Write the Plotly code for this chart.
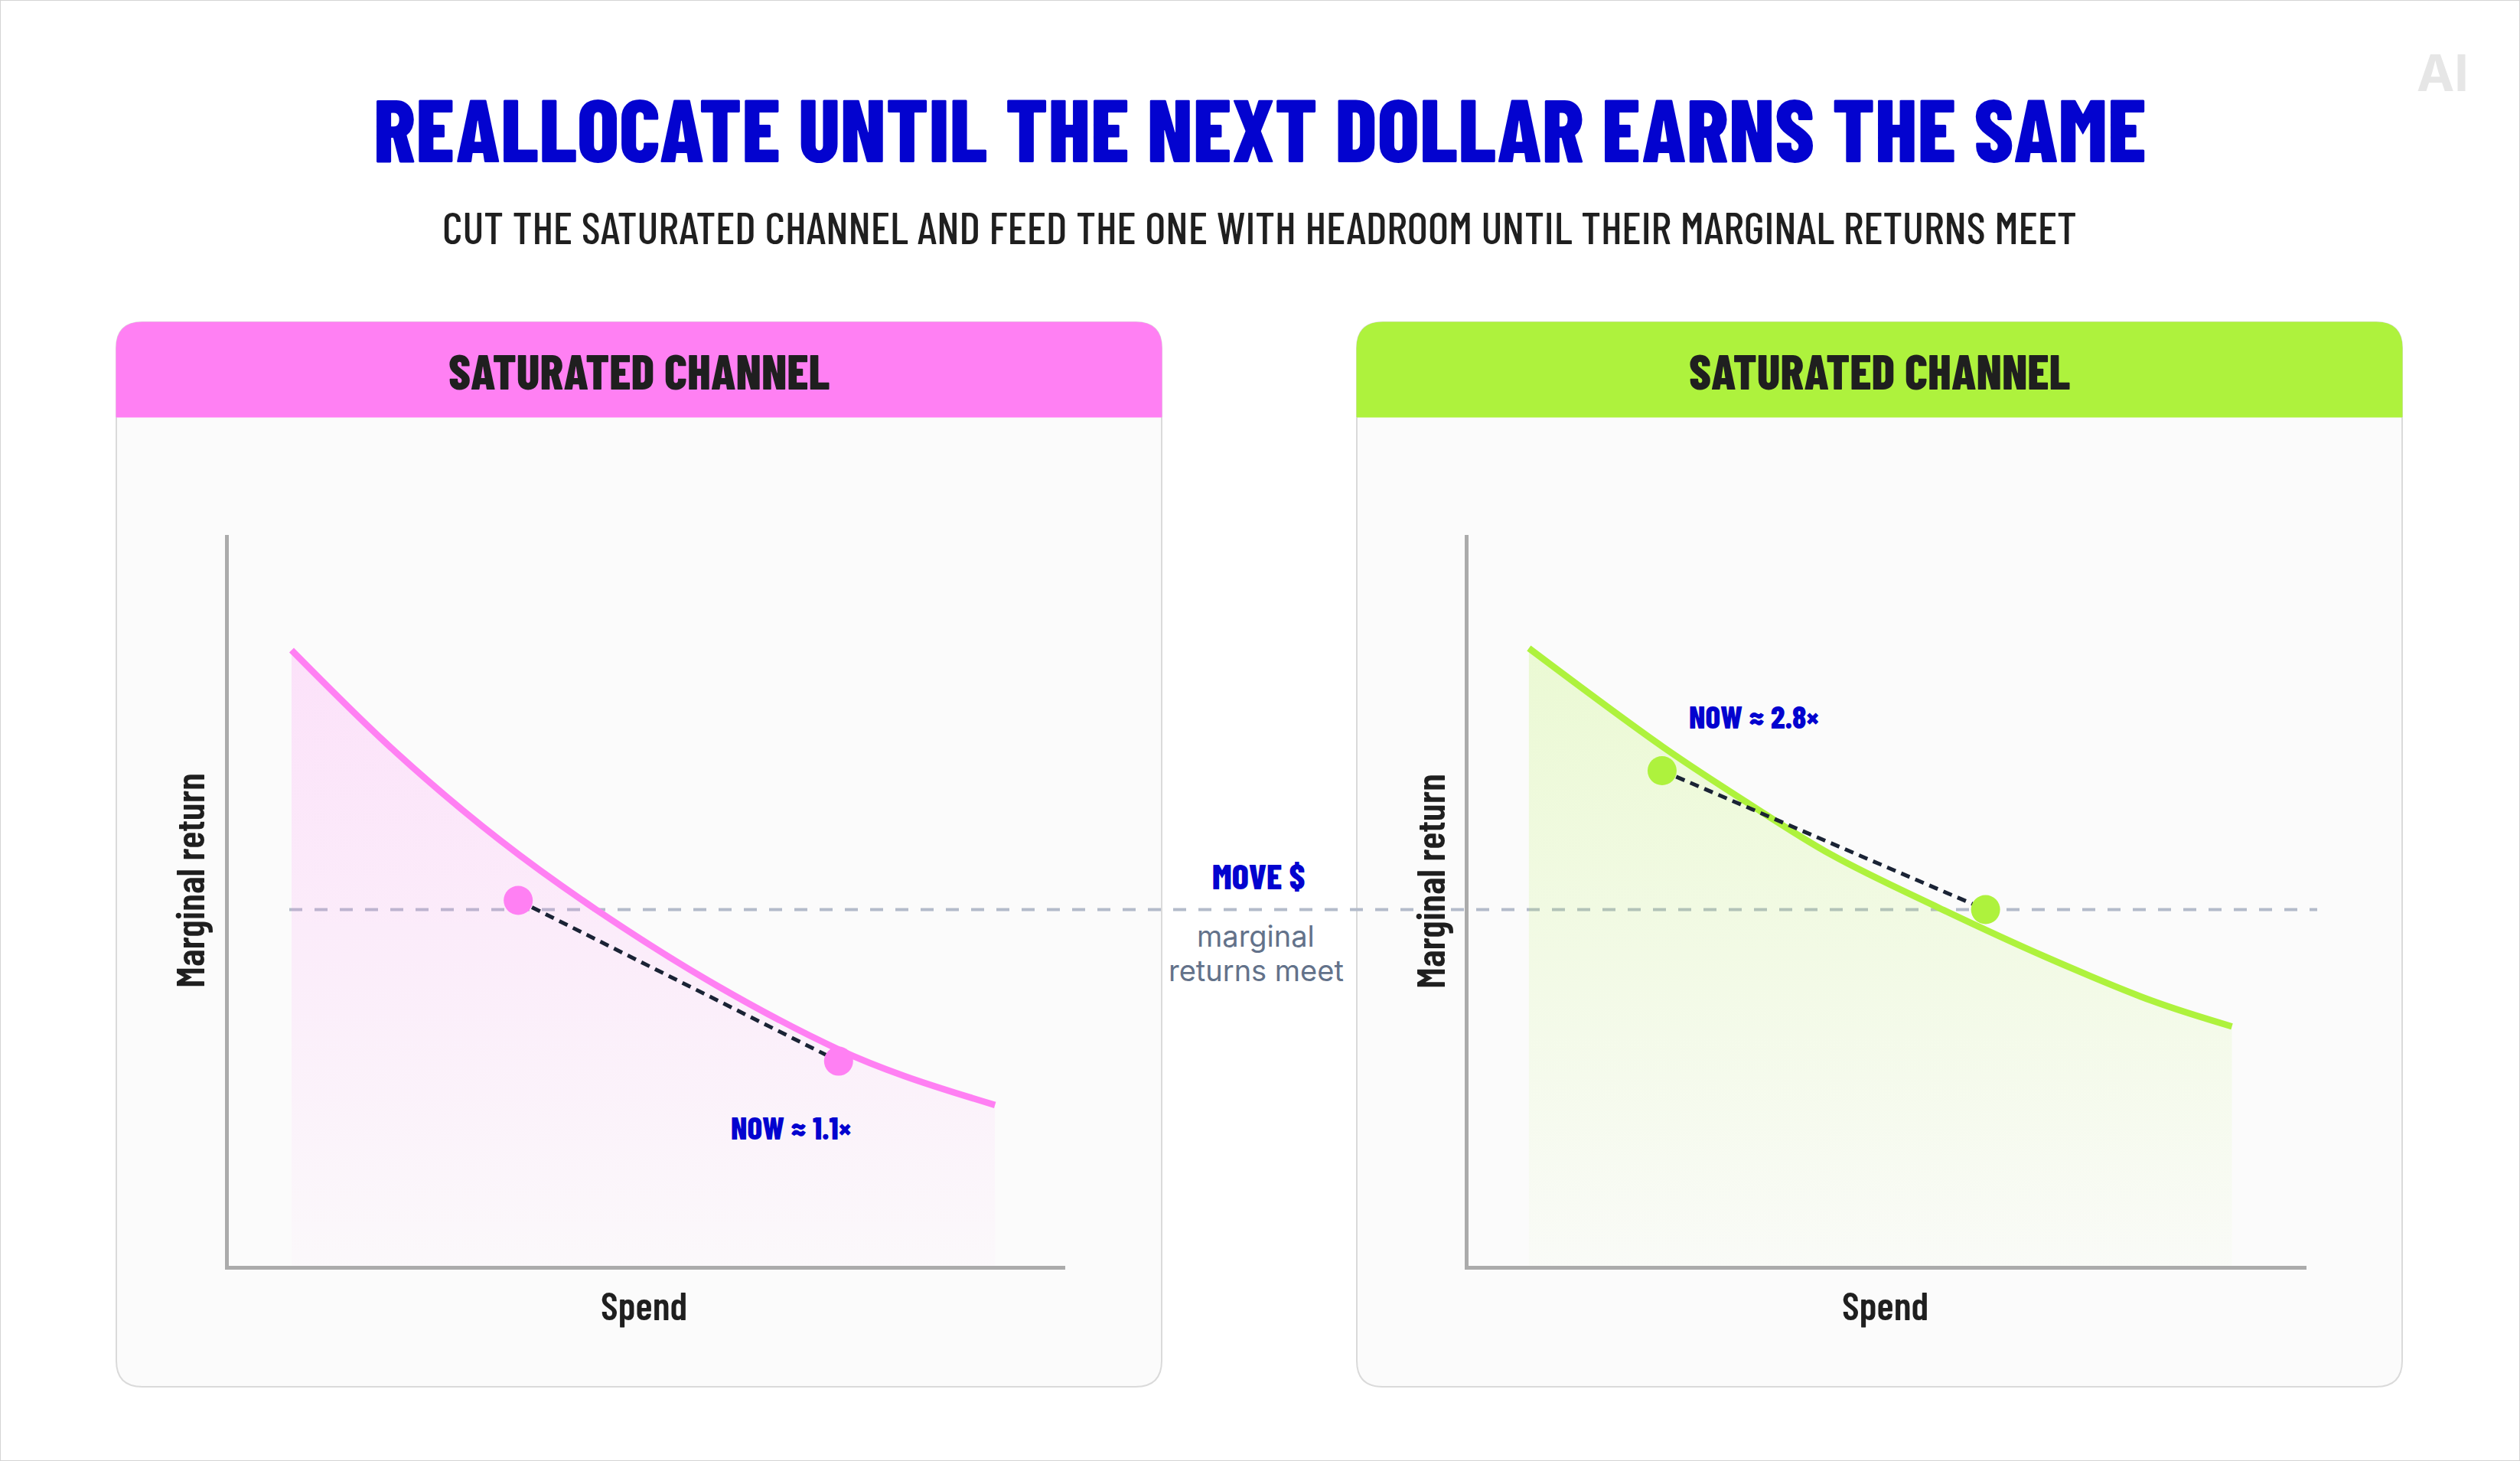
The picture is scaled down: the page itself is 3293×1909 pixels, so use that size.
import plotly.graph_objects as go

W, H = 3293, 1909

# ---------------- data ----------------
spend_sat = [0.75, 2.00, 3.24, 4.39, 5.85, 7.31, 8.07, 9.16]
ret_sat = [3.37, 2.81, 2.33, 1.95, 1.53, 1.18, 1.04, 0.88]
spend_head = [0.72, 2.32, 3.31, 4.33, 5.61, 6.89, 8.16, 9.11]
ret_head = [3.38, 2.84, 2.54, 2.25, 1.96, 1.69, 1.45, 1.31]
sat_move_x = [3.46, 7.29]
sat_move_y = [2.00, 1.12]
head_move_x = [2.31, 6.17]
head_move_y = [2.71, 1.95]
meet_return = 1.95
panel_titles = ["SATURATED CHANNEL", "SATURATED CHANNEL"]
now_labels = ["NOW ≈ 1.1×", "NOW ≈ 2.8×"]
now_label_x = [6.72, 3.41]
now_label_y = [0.76, 3.01]
axis_x_title = "Spend"
axis_y_title = "Marginal return"
title_text = "REALLOCATE UNTIL THE NEXT DOLLAR EARNS THE SAME"
subtitle_text = "CUT THE SATURATED CHANNEL AND FEED THE ONE WITH HEADROOM UNTIL THEIR MARGINAL RETURNS MEET"

PINK = "#FF80F3"
GREEN = "#AEF23D"
BLUE = "#0303CF"
DARK = "#1f1f1f"
NAVY = "#1a2335"
COND = "Barlow Condensed, Liberation Sans Narrow, DejaVu Sans Condensed, sans-serif"
SANS = "Inter, Roboto, sans-serif"


def px(x):
    return x / W


def py(y):
    return 1 - y / H


def rounded_path(x0, y0, x1, y1, r, bottom_round=True):
    X0, X1 = px(x0), px(x1)
    Y0, Y1 = py(y0), py(y1)
    rx, ry = r / W, r / H
    p = f"M {X0+rx},{Y0} L {X1-rx},{Y0} Q {X1},{Y0} {X1},{Y0-ry} "
    if bottom_round:
        p += f"L {X1},{Y1+ry} Q {X1},{Y1} {X1-rx},{Y1} L {X0+rx},{Y1} Q {X0},{Y1} {X0},{Y1+ry} "
    else:
        p += f"L {X1},{Y1} L {X0},{Y1} "
    p += f"L {X0},{Y0-ry} Q {X0},{Y0} {X0+rx},{Y0} Z"
    return p


fig = go.Figure()

panels = [
    dict(x0=152, x1=1518, color=PINK, fill="rgba(255,128,243,", xa="x", ya="y",
         sx=spend_sat, sy=ret_sat, mx=sat_move_x, my=sat_move_y),
    dict(x0=1773, x1=3139, color=GREEN, fill="rgba(174,242,61,", xa="x2", ya="y2",
         sx=spend_head, sy=ret_head, mx=head_move_x, my=head_move_y),
]

shapes = []
# outer frame
shapes.append(dict(type="rect", xref="paper", yref="paper", x0=0, x1=1, y0=0, y1=1,
                   line=dict(color="#d4d4d4", width=2), fillcolor="rgba(0,0,0,0)", layer="below"))

for i, p in enumerate(panels):
    shapes.append(dict(type="path", xref="paper", yref="paper",
                       path=rounded_path(p["x0"], 421, p["x1"], 1812, 34),
                       fillcolor="#FBFBFB", line=dict(color="#DADADA", width=2), layer="below"))
    shapes.append(dict(type="path", xref="paper", yref="paper",
                       path=rounded_path(p["x0"], 421, p["x1"], 545, 34, bottom_round=False),
                       fillcolor=p["color"], line=dict(color=p["color"], width=1), layer="below"))

    fig.add_trace(go.Scatter(
        x=p["sx"], y=p["sy"], mode="lines", line=dict(color=p["color"], width=8.5, shape="spline", smoothing=1.0),
        fill="tozeroy",
        fillgradient=dict(type="vertical", start=0, stop=3.4,
                          colorscale=[[0, p["fill"] + "0.02)"], [1, p["fill"] + "0.21)"]]),
        xaxis=p["xa"], yaxis=p["ya"], hoverinfo="skip", showlegend=False))
    fig.add_trace(go.Scatter(
        x=p["mx"], y=p["my"], mode="lines", line=dict(color=NAVY, width=5, dash="12px,8px"),
        xaxis=p["xa"], yaxis=p["ya"], hoverinfo="skip", showlegend=False))
    fig.add_trace(go.Scatter(
        x=p["mx"], y=p["my"], mode="markers", marker=dict(color=p["color"], size=38, line=dict(width=0)),
        xaxis=p["xa"], yaxis=p["ya"], hoverinfo="skip", showlegend=False))

# meet line across both panels
shapes.append(dict(type="line", xref="paper", yref="y", x0=px(378), x1=px(3028),
                   y0=meet_return, y1=meet_return,
                   line=dict(color="#B3BBCA", width=4, dash="17px,16px"), layer="below"))

annotations = []
annotations.append(dict(text=title_text, x=px(1646), y=py(166), xref="paper", yref="paper",
                        showarrow=False, xanchor="center", yanchor="middle",
                        font=dict(family=COND, size=115, color=BLUE, weight=800)))
annotations.append(dict(text=subtitle_text, x=px(1646), y=py(295), xref="paper", yref="paper",
                        showarrow=False, xanchor="center", yanchor="middle",
                        font=dict(family=COND, size=58.5, color=DARK, weight=500)))
annotations.append(dict(text="<b>AI</b>", x=px(3192), y=py(95), xref="paper", yref="paper",
                        showarrow=False, xanchor="center", yanchor="middle",
                        font=dict(family=SANS, size=66, color="#E6E6E6")))

axis_centers = [(842, 246), (2463, 1867)]
for i, p in enumerate(panels):
    cx = (p["x0"] + p["x1"]) / 2
    annotations.append(dict(text=panel_titles[i], x=px(cx), y=py(483), xref="paper", yref="paper",
                            showarrow=False, xanchor="center", yanchor="middle",
                            font=dict(family=COND, size=64, color=DARK, weight=800)))
    annotations.append(dict(text=axis_x_title, x=px(axis_centers[i][0]), y=py(1704), xref="paper", yref="paper",
                            showarrow=False, xanchor="center", yanchor="middle",
                            font=dict(family=COND, size=52, color=DARK, weight=600)))
    annotations.append(dict(text=axis_y_title, x=px(axis_centers[i][1]), y=py(1151), xref="paper", yref="paper",
                            showarrow=False, xanchor="center", yanchor="middle", textangle=-90,
                            font=dict(family=COND, size=52, color=DARK, weight=600)))
    annotations.append(dict(text=now_labels[i], x=now_label_x[i], y=now_label_y[i],
                            xref=p["xa"], yref=p["ya"], showarrow=False, xanchor="center", yanchor="middle",
                            font=dict(family=COND, size=41, color=BLUE, weight=800)))

annotations.append(dict(text="MOVE $", x=px(1644), y=py(1143), xref="paper", yref="paper",
                        showarrow=False, xanchor="center", yanchor="middle",
                        font=dict(family=COND, size=46, color=BLUE, weight=800)))
annotations.append(dict(text="marginal", x=px(1641), y=py(1223), xref="paper", yref="paper",
                        showarrow=False, xanchor="center", yanchor="middle",
                        font=dict(family=SANS, size=38, color="#63728A")))
annotations.append(dict(text="returns meet", x=px(1641), y=py(1268), xref="paper", yref="paper",
                        showarrow=False, xanchor="center", yanchor="middle",
                        font=dict(family=SANS, size=38, color="#63728A")))

ax_common = dict(showgrid=False, zeroline=False, showticklabels=False, ticks="",
                 showline=True, linecolor="#ABABAB", linewidth=5, fixedrange=True)

fig.update_layout(
    width=W, height=H, margin=dict(l=0, r=0, t=0, b=0),
    paper_bgcolor="#FFFFFF", plot_bgcolor="rgba(0,0,0,0)",
    showlegend=False,
    xaxis=dict(domain=[px(299), px(1392)], range=[0, 10], anchor="y", **ax_common),
    yaxis=dict(domain=[py(1654), py(699)], range=[0, 4], anchor="x", **ax_common),
    xaxis2=dict(domain=[px(1919), px(3014)], range=[0, 10], anchor="y2", **ax_common),
    yaxis2=dict(domain=[py(1654), py(699)], range=[0, 4], anchor="x2", **ax_common),
    shapes=shapes, annotations=annotations,
)

fig.write_html("out.html")
